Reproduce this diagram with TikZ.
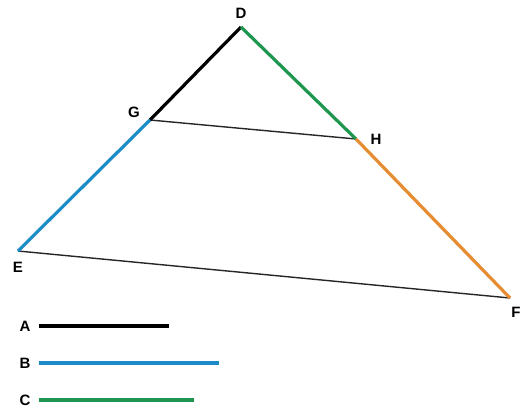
\documentclass[tikz,border=0pt]{standalone}
\usepackage{fontspec}
\setmainfont{Liberation Sans}
\usepackage{tikz}
\usetikzlibrary{positioning}
\definecolor{segblue}{RGB}{28,140,200}
\definecolor{seggreen}{RGB}{30,150,80}
\definecolor{segorange}{RGB}{230,140,50}

\begin{document}
\begin{tikzpicture}[
		x=1pt, y=-1pt,
		every node/.style={font=\bfseries\fontsize{15}{17}\selectfont},
		seg/.style={line width=3.2pt},
		thinseg/.style={line width=1.4pt, draw=black!85},
		lbl/.style={inner sep=1pt}
	]
	\useasboundingbox (0,0) rectangle (528,410);

	% Points of the triangle
	\coordinate (D) at (241,27);
	\coordinate (G) at (150,120);
	\coordinate (H) at (356,139);
	\coordinate (E) at (18,251);
	\coordinate (F) at (510,298);

	% Thin segments
	\draw[thinseg] (G) -- (H);
	\draw[thinseg] (E) -- (F);

	% Coloured sides
	\draw[seg, black] (D) -- (G);
	\draw[seg, seggreen] (D) -- (H);
	\draw[seg, segblue] (G) -- (E);
	\draw[seg, segorange] (H) -- (F);

	% Point labels
	\node[lbl] (labD) at (241,13) {D};
	\node[lbl] (labG) at (134,112) {G};
	\node[lbl] (labH) at (376,139) {H};
	\node[lbl] (labE) at (18,267) {E};
	\node[lbl] (labF) at (516,312) {F};

	% Legend
	\node[lbl] (legA) at (25,326) {A};
	\node[lbl] (legB) at (25,363) {B};
	\node[lbl] (legC) at (25,400) {C};
	\coordinate (endA) at (169,326);
	\coordinate (endB) at (219,363);
	\coordinate (endC) at (194,400);
	\draw[seg, black] ([xshift=7pt]legA.east) -- (endA);
	\draw[seg, segblue] ([xshift=7pt]legB.east) -- (endB);
	\draw[seg, seggreen] ([xshift=7pt]legC.east) -- (endC);

\end{tikzpicture}
\end{document}
